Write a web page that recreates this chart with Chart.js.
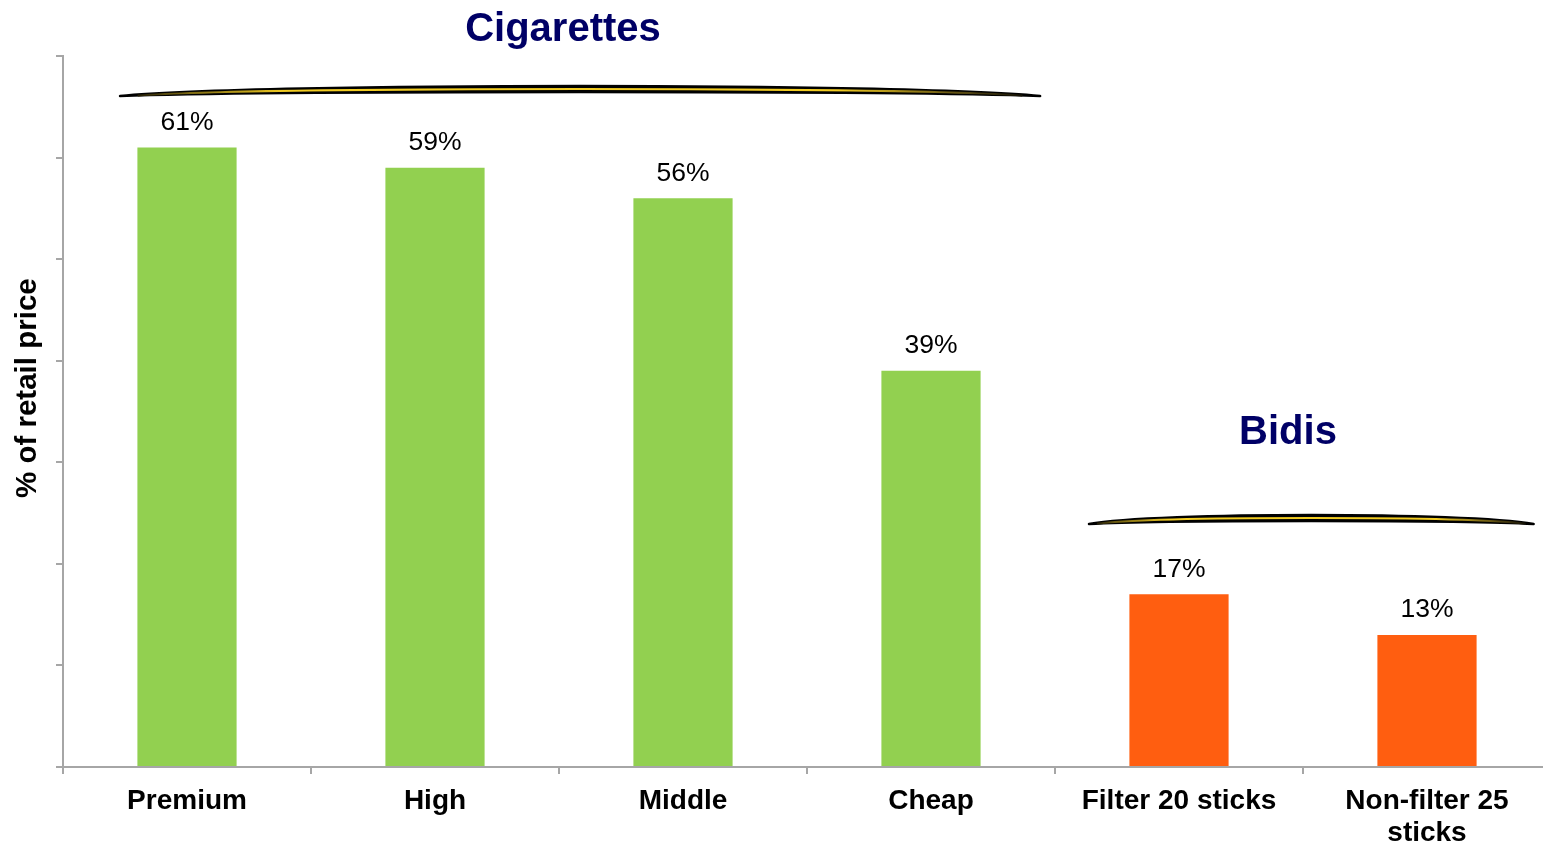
<!DOCTYPE html>
<html>
<head>
<meta charset="utf-8">
<script src="https://cdn.jsdelivr.net/npm/chart.js@4/dist/chart.umd.min.js"></script>
<style>
  html, body { margin: 0; padding: 0; overflow: hidden; background: #fff; }
  #wrap { width: 1551px; height: 843px; position: relative; }
</style>
</head>
<body>
<div id="wrap"><canvas id="share-chart"></canvas></div>
<script>
// tax share of retail price, by product
const categories = ['Premium', 'High', 'Middle', 'Cheap', 'Filter 20 sticks', ['Non-filter 25', 'sticks']];
const taxShare = [61, 59, 56, 39, 17, 13];
const productType = ['cig', 'cig', 'cig', 'cig', 'bidi', 'bidi'];
const yTicks = [0, 10, 20, 30, 40, 50, 60, 70];
const yTitle = '% of retail price';

const FONT = 'Liberation Sans, Arial, sans-serif';
const NAVY = '#000066';

function getColor(type) {
    if (type === 'cig') {
        return '#92d050'
    }
    return '#ff5e10'
}

// brace + heading over each product group
const groups = [
    { title: 'Cigarettes', from: 0, to: 3, left: -0.27, right: 0.44, braceY: 66.06, rise: 10, titleY: 72.56, titleDx: 4 },
    { title: 'Bidis', from: 4, to: 5, left: -0.363, right: 0.43, braceY: 23.92, rise: 9, titleY: 32.88, titleDx: -15 }
];

function drawBrace(ctx, x1, x2, yEnd, rise) {
    const w = x2 - x1;
    const ctrl = (peak) => (peak - 0.25 * yEnd) / 0.75;
    const outer = ctrl(yEnd - rise);
    const inner = ctrl(yEnd - rise + 6);
    ctx.save();
    ctx.beginPath();
    ctx.moveTo(x1, yEnd);
    ctx.bezierCurveTo(x1 + w * 0.15, outer, x2 - w * 0.15, outer, x2, yEnd);
    ctx.bezierCurveTo(x2 - w * 0.15, inner, x1 + w * 0.15, inner, x1, yEnd);
    ctx.closePath();
    ctx.fillStyle = '#000';
    ctx.strokeStyle = '#000';
    ctx.lineWidth = 2.5;
    ctx.lineJoin = 'round';
    ctx.lineCap = 'round';
    ctx.fill();
    ctx.stroke();

    // yellow core
    const mid = ctrl(yEnd - rise + 3);
    const grad = ctx.createLinearGradient(x1, 0, x2, 0);
    grad.addColorStop(0, 'rgba(0,0,0,1)');
    grad.addColorStop(0.06, '#6a5a10');
    grad.addColorStop(0.18, '#f2cc22');
    grad.addColorStop(0.78, '#f2cc22');
    grad.addColorStop(0.93, '#4a3e10');
    grad.addColorStop(1, 'rgba(0,0,0,1)');
    ctx.beginPath();
    ctx.moveTo(x1 + w * 0.02, yEnd - 0.5);
    ctx.bezierCurveTo(x1 + w * 0.15, mid, x2 - w * 0.15, mid, x2 - w * 0.02, yEnd - 0.5);
    ctx.strokeStyle = grad;
    ctx.lineWidth = 2;
    ctx.stroke();
    ctx.restore();
}

const groupPlugin = {
    id: 'groups',
    afterDraw(chart) {
        const { ctx, scales: { x, y } } = chart;
        const step = x.getPixelForValue(1) - x.getPixelForValue(0);
        groups.forEach(g => {
            const x1 = x.getPixelForValue(g.from) + g.left * step;
            const x2 = x.getPixelForValue(g.to) + g.right * step;
            drawBrace(ctx, x1, x2, y.getPixelForValue(g.braceY), g.rise);

            const cx = (x.getPixelForValue(g.from) + x.getPixelForValue(g.to)) / 2 + g.titleDx;
            ctx.save();
            ctx.font = 'bold 40px ' + FONT;
            ctx.fillStyle = NAVY;
            ctx.textAlign = 'center';
            ctx.textBaseline = 'middle';
            ctx.fillText(g.title, cx, y.getPixelForValue(g.titleY));
            ctx.restore();
        });

        // y axis title, sits a little above the axis middle
        ctx.save();
        ctx.translate(y.left + 28, y.getPixelForValue(37.3));
        ctx.rotate(-Math.PI / 2);
        ctx.font = 'bold 29.5px ' + FONT;
        ctx.fillStyle = '#000';
        ctx.textAlign = 'center';
        ctx.textBaseline = 'middle';
        ctx.fillText(yTitle, 0, 0);
        ctx.restore();
    }
};

// percentage above each bar
const valueLabels = {
    id: 'valueLabels',
    afterDatasetsDraw(chart) {
        const { ctx } = chart;
        const meta = chart.getDatasetMeta(0);
        ctx.save();
        ctx.font = '26.5px ' + FONT;
        ctx.fillStyle = '#000';
        ctx.textAlign = 'center';
        ctx.textBaseline = 'middle';
        meta.data.forEach((bar, i) => {
            ctx.fillText(taxShare[i] + '%', bar.x, bar.y - 25);
        });
        ctx.restore();
    }
};

new Chart(document.querySelector('#share-chart').getContext('2d'), {
    type: 'bar',
    data: {
        labels: categories,
        datasets: [{
            data: taxShare,
            backgroundColor: productType.map(getColor),
            barPercentage: 0.4,
            categoryPercentage: 1
        }]
    },
    options: {
        responsive: true,
        maintainAspectRatio: false,
        animation: false,
        layout: { padding: { top: 56, right: 0, left: 0, bottom: 0 } },
        plugins: {
            legend: { display: false },
            tooltip: { enabled: false }
        },
        scales: {
            x: {
                grid: { offset: true, drawOnChartArea: false, drawTicks: true, tickLength: 7, color: '#a6a6a6', lineWidth: 2 },
                border: { color: '#a6a6a6', width: 2 },
                ticks: {
                    color: '#000',
                    font: { family: FONT, size: 28, weight: 'bold', lineHeight: 1.15 },
                    padding: 11,
                    maxRotation: 0,
                    autoSkip: false
                },
                afterFit(scale) { scale.height = 76; }
            },
            y: {
                min: 0,
                max: 70,
                afterBuildTicks(scale) { scale.ticks = yTicks.map(v => ({ value: v })); },
                grid: { drawOnChartArea: false, drawTicks: true, tickLength: 7, color: '#a6a6a6', lineWidth: 2 },
                border: { color: '#a6a6a6', width: 2 },
                ticks: { display: false },
                afterFit(scale) { scale.width = 63; }
            }
        }
    },
    plugins: [groupPlugin, valueLabels]
});
</script>
</body>
</html>
